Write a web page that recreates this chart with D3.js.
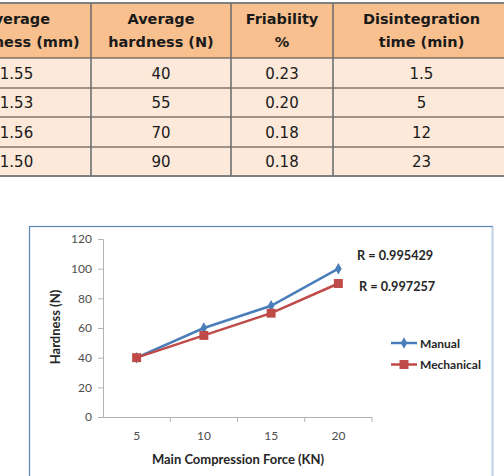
<!DOCTYPE html>
<html>
<head>
<meta charset="utf-8">
<script src="https://cdn.jsdelivr.net/npm/d3@7"></script>
<style>
  body { margin: 0; background: #fff; }
  svg { display: block; }
</style>
</head>
<body>
<svg id="fig" width="504" height="476"></svg>
<script>
// table data
const headers = [["Average", "thickness (mm)"], ["Average", "hardness (N)"], ["Friability", "%"], ["Disintegration", "time (min)"]];
const thickness = ["1.55", "1.53", "1.56", "1.50"];
const hardness = ["40", "55", "70", "90"];
const friability = ["0.23", "0.20", "0.18", "0.18"];
const disintegration = ["1.5", "5", "12", "23"];

// chart data
const force = ["5", "10", "15", "20"];
const manual = [40, 60, 75, 100];
const mechanical = [40, 55, 70, 90];
const yTicks = [0, 20, 40, 60, 80, 100, 120];
const rLabels = ["R = 0.995429", "R = 0.997257"];
const seriesNames = ["Manual", "Mechanical"];

const svg = d3.select("#fig");

// ---- table ----
const colEdges = [-58, 91, 231, 333, 510];
const rowEdges = [3, 58, 88, 117, 147, 176];
const columns = [thickness, hardness, friability, disintegration];

const tbl = svg.append("g");
// header fill
tbl.append("rect").attr("x", -2).attr("y", rowEdges[0]).attr("width", 510).attr("height", rowEdges[1] - rowEdges[0]).attr("fill", "#f9c08f");
tbl.append("rect").attr("x", -2).attr("y", rowEdges[1]).attr("width", 510).attr("height", rowEdges[5] - rowEdges[1]).attr("fill", "#fde9d9");

// header text
headers.forEach((h, i) => {
  const cx = (colEdges[i] + colEdges[i + 1]) / 2;
  h.forEach((line, j) => {
    tbl.append("text").attr("x", cx).attr("y", 24 + j * 23).attr("text-anchor", "middle")
      .style("font-family", "DejaVu Sans").style("font-weight", "bold").style("font-size", "14.5px").attr("fill", "#1a1a1a")
      .text(line);
  });
});
// body text
columns.forEach((col, i) => {
  const cx = (colEdges[i] + colEdges[i + 1]) / 2;
  col.forEach((v, r) => {
    const cy = (rowEdges[r + 1] + rowEdges[r + 2]) / 2;
    tbl.append("text").attr("x", cx).attr("y", cy + 5.5).attr("text-anchor", "middle")
      .style("font-family", "DejaVu Sans").style("font-size", "15px").attr("fill", "#1a1a1a")
      .text(v);
  });
});
// grid lines
rowEdges.forEach((y, i) => {
  const outer = i === 0 || i === rowEdges.length - 1;
  tbl.append("line").attr("x1", -2).attr("x2", 506).attr("y1", y).attr("y2", y)
    .attr("stroke", outer ? "#7f7f7f" : "#3f3f3f").attr("stroke-width", outer ? 2 : 1.2);
});
colEdges.slice(1, 4).forEach(x => {
  tbl.append("line").attr("x1", x).attr("x2", x).attr("y1", rowEdges[0]).attr("y2", rowEdges[5])
    .attr("stroke", "#6f6f6f").attr("stroke-width", 1.6);
});

// ---- chart frame ----
svg.append("rect").attr("x", 29.5).attr("y", 226.5).attr("width", 463).attr("height", 260)
  .attr("fill", "#fff").attr("stroke", "#5b87bf").attr("stroke-width", 1.2);
svg.append("line").attr("x1", 492.5).attr("x2", 492.5).attr("y1", 227).attr("y2", 476)
  .attr("stroke", "#c6d6ea").attr("stroke-width", 2);

const plot = { left: 103, right: 372, top: 239, bottom: 417 };
const x = d3.scaleBand().domain(force).range([plot.left, plot.right]);
const y = d3.scaleLinear().domain([0, 120]).range([plot.bottom, plot.top]);

const tickFont = g => g.selectAll("text").style("font-family", "Lato").style("font-size", "12px").attr("fill", "#4d4d4d");

// y axis
const yAxis = svg.append("g").attr("transform", `translate(${plot.left},0)`)
  .call(d3.axisLeft(y).tickValues(yTicks).tickSize(5).tickPadding(6));
yAxis.select(".domain").attr("stroke", "#b3b3b3");
yAxis.selectAll(".tick line").attr("stroke", "#b3b3b3");
tickFont(yAxis);

// x axis with ticks at band boundaries
const xAxis = svg.append("g").attr("transform", `translate(0,${plot.bottom})`)
  .call(d3.axisBottom(x).tickSize(0).tickPadding(14));
xAxis.select(".domain").attr("stroke", "#b3b3b3");
tickFont(xAxis);
xAxis.selectAll(".bound").data(force).enter().append("line")
  .attr("x1", d => x(d) + x.bandwidth()).attr("x2", d => x(d) + x.bandwidth())
  .attr("y1", 0).attr("y2", 5).attr("stroke", "#b3b3b3");

// axis titles
svg.append("text").attr("x", 238).attr("y", 463.5).attr("text-anchor", "middle")
  .style("font-family", "Lato").style("font-weight", "bold").style("font-size", "13px").attr("fill", "#262626")
  .text("Main Compression Force (KN)");
svg.append("text").attr("transform", "translate(59.5,327) rotate(-90)").attr("text-anchor", "middle")
  .style("font-family", "Lato").style("font-weight", "bold").style("font-size", "13px").attr("fill", "#262626")
  .text("Hardness (N)");

// series
const series = [
  { name: seriesNames[0], values: manual, color: "#4a7ebb", shape: d3.symbolDiamond, size: 38 },
  { name: seriesNames[1], values: mechanical, color: "#be4b48", shape: d3.symbolSquare, size: 80 }
];
const line = d3.line().x((d, i) => x(force[i]) + x.bandwidth() / 2).y(d => y(d));

series.forEach(s => {
  svg.append("path").datum(s.values).attr("d", line).attr("fill", "none")
    .attr("stroke", s.color).attr("stroke-width", 2.5);
  svg.selectAll(null).data(s.values).enter().append("path")
    .attr("d", d3.symbol().type(s.shape).size(s.size))
    .attr("transform", (d, i) => `translate(${x(force[i]) + x.bandwidth() / 2},${y(d)})`)
    .attr("fill", s.color);
});

// R annotations
svg.append("text").attr("x", 357).attr("y", 259.5).style("font-family", "Lato").style("font-weight", "bold")
  .style("font-size", "12.7px").attr("fill", "#262626").text(rLabels[0]);
svg.append("text").attr("x", 359).attr("y", 291).style("font-family", "Lato").style("font-weight", "bold")
  .style("font-size", "12.7px").attr("fill", "#262626").text(rLabels[1]);

// legend
series.forEach((s, i) => {
  const ly = 343 + i * 21.5;
  const g = svg.append("g");
  g.append("line").attr("x1", 391).attr("x2", 417).attr("y1", ly).attr("y2", ly)
    .attr("stroke", s.color).attr("stroke-width", 2.5);
  g.append("path").attr("d", d3.symbol().type(s.shape).size(s.size))
    .attr("transform", `translate(404,${ly})`).attr("fill", s.color);
  g.append("text").attr("x", 420).attr("y", ly + 4.5).style("font-family", "Lato").style("font-weight", "bold")
    .style("font-size", "12px").attr("fill", "#262626").text(s.name);
});
</script>
</body>
</html>
